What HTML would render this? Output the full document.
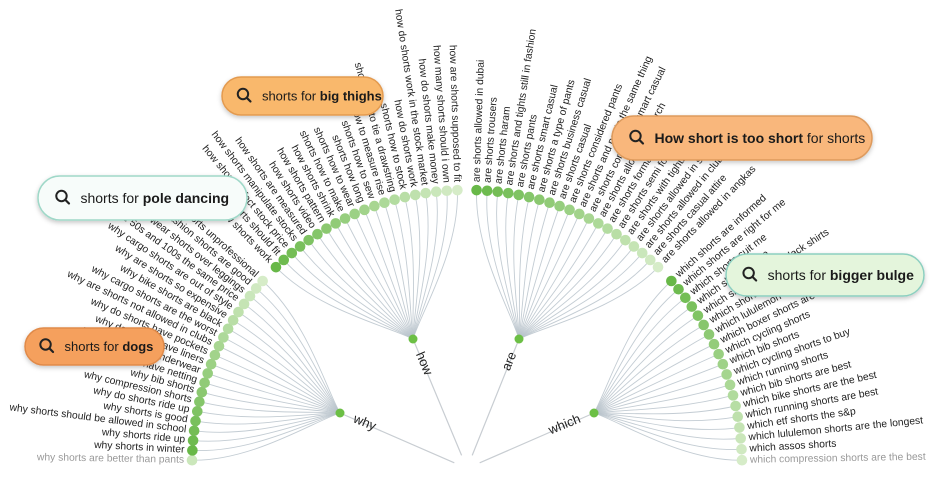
<!DOCTYPE html>
<html><head><meta charset="utf-8">
<style>
html,body{margin:0;padding:0;background:#fff;width:943px;height:489px;overflow:hidden}
svg{display:block}
text{font-family:"Liberation Sans",sans-serif}
</style></head>
<body>
<svg id="s" width="943" height="489" viewBox="0 0 943 489" xmlns="http://www.w3.org/2000/svg">
<defs>
<filter id="sh" x="-10%" y="-30%" width="120%" height="170%"><feDropShadow dx="0" dy="2" stdDeviation="2.5" flood-color="#000" flood-opacity="0.22"/></filter>
</defs>
<g id="lines"></g><g id="dots"></g><g id="labels"></g><g id="pills"></g>
</svg>
<script>
const NS="http://www.w3.org/2000/svg";
const cx=467,cy=465,R=275;
const L=document.getElementById('lines'),D=document.getElementById('dots'),T=document.getElementById('labels');
function el(p,tag,a,txt){const e=document.createElementNS(NS,tag);for(const k in a)e.setAttribute(k,a[k]);if(txt!=null)e.textContent=txt;p.appendChild(e);return e;}
const groups=[
 {name:"why",a0:179,a1:138,node:[340,413],lightFirst:true,labels:[
 "why shorts are better than pants","why shorts in winter","why shorts ride up","why shorts should be allowed in school","why shorts is good","why do shorts ride up","why compression shorts","why bib shorts","why do shorts have netting","why shorts over underwear","why do shorts have liners","why do shorts have pockets","why are shorts not allowed in clubs","why cargo shorts are the worst","why bike shorts are black","why are shorts so expensive","why cargo shorts are out of style","why are 50s and 100s the same price","why wear shorts over leggings","why fashion shorts are good","why are shorts unprofessional"]},
 {name:"how",a0:134,a1:92,node:[413,339],labels:[
 "how shorts work","how shorts should fit","how shorts affect stock price","how shorts manipulate stocks","how shorts are measured","how shorts video","how shorts pattern","how shorts shrink","shorts how to make","shorts how to wear","shorts how long","shorts how to sew","shorts how to measure rise","shorts how to tie a drawstring","shorts how to stock","how do shorts work","how do shorts work in the stock market","how do shorts make money","how many shorts should i own","how are shorts supposed to fit"]},
 {name:"are",a0:88,a1:46,node:[519,339],labels:[
 "are shorts allowed in dubai","are shorts trousers","are shorts haram","are shorts and tights still in fashion","are shorts pants","are shorts smart casual","are shorts a type of pants","are shorts business casual","are shorts casual","are shorts considered pants","are shorts and pants the same thing","are shorts considered smart casual","are shorts allowed in church","are shorts formal","are shorts semi formal","are shorts with tights","are shorts allowed in school","are shorts allowed in clubs","are shorts casual attire","are shorts allowed in angkas"]},
 {name:"which",a0:42,a1:1,node:[594,413],labels:[
 "which shorts are informed","which shorts are right for me","which shorts suit me","which shorts fit me","which shorts go with black shirts","which shorts are best","which lululemon shorts are best","which boxer shorts are best","which cycling shorts","which bib shorts","which cycling shorts to buy","which running shorts","which bib shorts are best","which bike shorts are the best","which running shorts are best","which etf shorts the s&p","which lululemon shorts are the longest","which assos shorts","which compression shorts are the best"]}
];
function mix(a,b,t){return a.map((v,i)=>Math.round(v+(b[i]-v)*t));}
const dark=[104,184,72],light=[214,236,200];
groups.forEach(g=>{
 const n=g.labels.length;
 const [nx,ny]=g.node;
 el(L,'line',{x1:nx,y1:ny,x2:cx+(nx-cx)*0.1,y2:cy-(cy-ny)*0.1+3,stroke:"#c8cdd2","stroke-width":1.2});
 for(let i=0;i<n;i++){
  const a=g.a0+(g.a1-g.a0)*i/(n-1);
  const r=a*Math.PI/180;
  const x=cx+R*Math.cos(r),y=cy-R*Math.sin(r);
  const ix=cx+(R-60)*Math.cos(r),iy=cy-(R-60)*Math.sin(r);
  const mx=nx+(x-nx)*0.15,my=ny+(y-ny)*0.15;
  el(L,'path',{d:`M${nx},${ny} C${(nx+mx)/2+ (x-nx)*0.1},${(ny+my)/2+(y-ny)*0.1} ${ix},${iy} ${x},${y}`,fill:"none",stroke:"#b9c3cb","stroke-width":0.9,opacity:0.85});
  let t=i/(n-1);
  if(g.lightFirst){t=i==0?0.9:(i-1)/(n-2);}
  const c=mix(dark,light,t);
  el(D,'circle',{cx:x,cy:y,r:5.3,fill:`rgb(${c})`});
  const lx=cx+(R+8)*Math.cos(r),ly=cy-(R+8)*Math.sin(r);
  const left=a>90;
  const rot=left?180-a:-a;
  const col=(g.lightFirst&&i==0)||(g.name=="which"&&i==n-1)?"#999":"#222";
  el(T,'text',{x:lx,y:ly,"font-size":10.3,fill:col,"text-anchor":left?"end":"start","dominant-baseline":"middle",transform:`rotate(${rot} ${lx} ${ly})`},g.labels[i]);
 }
 el(D,'circle',{cx:nx,cy:ny,r:4.5,fill:"#6cbf45"});
 const ang=Math.atan2(cy-ny,cx-nx)*180/Math.PI;
 const left=nx<cx;
 const lx=nx+(cx-nx)*0.08,ly=ny+(cy-ny)*0.08;
 let rot=left?ang:ang+180;
 el(T,'text',{x:left?lx+4:lx-4,y:ly,"font-size":13,fill:"#222","text-anchor":left?"start":"end","dominant-baseline":"middle",transform:`rotate(${rot} ${lx} ${ly})`},g.name);
});
const P=document.getElementById('pills');
function pill(x,y,w,h,fill,stroke,parts,fs){
 const g=el(P,'g',{filter:"url(#sh)"});
 el(g,'rect',{x,y,width:w,height:h,rx:h/2,fill,stroke,"stroke-width":1.5});
 const ix=x+h*0.42, iy=y+h/2-1;
 el(P,'circle',{cx:ix+5,cy:iy-1,r:5.2,fill:"none",stroke:"#222","stroke-width":2});
 el(P,'line',{x1:ix+9,y1:iy+3,x2:ix+12.5,y2:iy+6.5,stroke:"#222","stroke-width":2.2,"stroke-linecap":"round"});
 const t=el(P,'text',{x:ix+24,y:y+h/2+fs*0.36,"font-size":fs,fill:"#1a1a1a"});
 parts.forEach(p=>{el(t,'tspan',p.b?{"font-weight":"bold"}:{},p.t);});
}
pill(222,77,161,38,"#f9b86c","#e39a4f",[{t:"shorts for "},{t:"big thighs",b:1}],13);
pill(38,176,209,44,"#f7fcfa","#9fd8c8",[{t:"shorts for "},{t:"pole dancing",b:1}],14);
pill(612,116,260,44,"#f9b77b","#dd9a5d",[{t:"How short is too short",b:1},{t:"  for shorts"}],14);
pill(726,254,198,42,"#e4f5dc","#8ccfc0",[{t:"shorts for  "},{t:"bigger bulge",b:1}],14);
pill(25,328,139,37,"#f5a05d","#e08a4a",[{t:"shorts for "},{t:"dogs",b:1}],13);
</script>
</body></html>
